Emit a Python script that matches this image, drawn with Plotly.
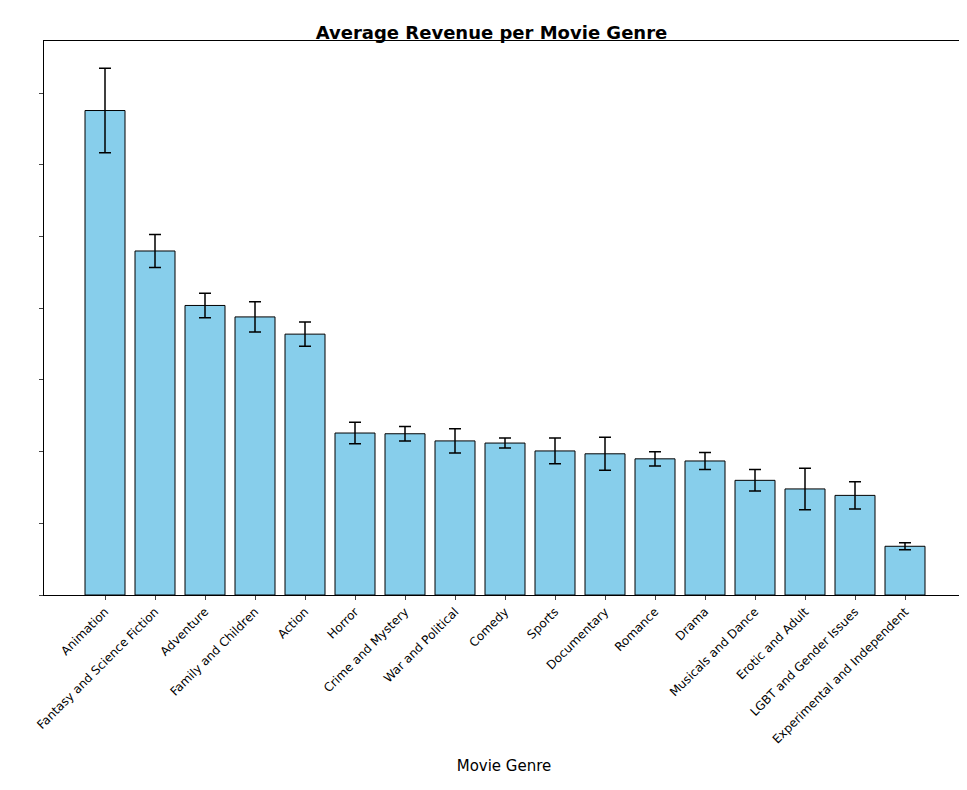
import plotly.graph_objects as go

genres = ["Animation", "Fantasy and Science Fiction", "Adventure", "Family and Children",
          "Action", "Horror", "Crime and Mystery", "War and Political", "Comedy", "Sports",
          "Documentary", "Romance", "Drama", "Musicals and Dance", "Erotic and Adult",
          "LGBT and Gender Issues", "Experimental and Independent"]
avg_revenue = [6.76, 4.80, 4.04, 3.88, 3.64, 2.26, 2.25, 2.15, 2.12, 2.01,
               1.97, 1.90, 1.87, 1.60, 1.48, 1.39, 0.68]
revenue_err = [0.59, 0.23, 0.17, 0.21, 0.17, 0.15, 0.10, 0.17, 0.07, 0.18,
               0.23, 0.10, 0.12, 0.15, 0.29, 0.19, 0.05]

fig = go.Figure(go.Bar(
    x=list(range(len(genres))), y=avg_revenue, width=0.8,
    marker=dict(color="skyblue", line=dict(color="black", width=1)),
    error_y=dict(type="data", array=revenue_err, color="black", thickness=1.5, width=6),
))

fig.update_xaxes(
    range=[-1.22, 17.18], tickmode="array", tickvals=list(range(len(genres))),
    ticktext=genres, tickangle=-45, ticks="outside", ticklen=4,
    showline=True, mirror=True, linecolor="black", showgrid=False, zeroline=False,
    title=dict(text="Movie Genre", font=dict(size=15)),
)
fig.update_yaxes(
    range=[0, 7.73], dtick=1, ticks="outside", ticklen=4, showticklabels=False,
    showline=True, mirror=True, linecolor="black", showgrid=False, zeroline=False,
)
fig.update_layout(
    width=967, height=790, plot_bgcolor="white", paper_bgcolor="white",
    margin=dict(l=36, r=11, t=33, b=203),
    font=dict(family="DejaVu Sans", size=12, color="black"),
    title=dict(text="<b>Average Revenue per Movie Genre</b>", x=0.5, xanchor="center",
               y=0.977, font=dict(size=18)),
    showlegend=False,
)
fig.write_html("out.html")
